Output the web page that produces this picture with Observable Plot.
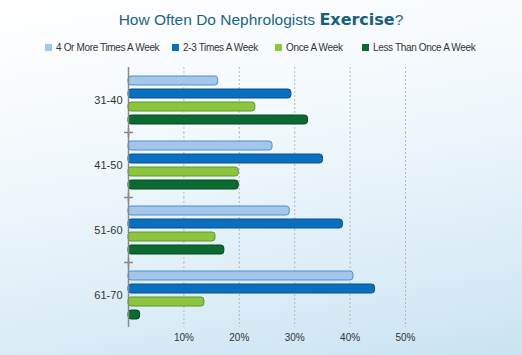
<!DOCTYPE html>
<html>
<head>
<meta charset="utf-8">
<script src="https://cdn.jsdelivr.net/npm/d3@7"></script>
<script src="https://cdn.jsdelivr.net/npm/@observablehq/plot@0.6"></script>
<style>
  html, body { margin: 0; padding: 0; }
  body {
    width: 522px; height: 355px; overflow: hidden;
    background: linear-gradient(170deg, #ffffff 0%, #f3f9fc 35%, #dcedf7 75%, #c9e3f2 100%);
    font-family: "Liberation Sans", Arial, sans-serif;
  }
  #title {
    height: 38px; line-height: 40px; text-align: center; white-space: nowrap;
    color: #1d6580; font-family: "Liberation Sans", Arial, sans-serif; font-size: 15.5px;
  }
  #title b { font-family: "DejaVu Sans", sans-serif; font-weight: 900; font-size: 16px; color: #17607c; }
  #legend {
    position: relative; height: 22px; font-size: 10px; color: #333; white-space: nowrap;
    letter-spacing: -0.35px;
  }
  #legend span.item { position: absolute; top: 4px; display: inline-flex; align-items: center; }
  #legend span.sw { width: 7px; height: 7px; display: inline-block; margin-right: 4px; }
  #chart svg { background: transparent; display: block; }
</style>
</head>
<body>
<div id="title">How Often Do Nephrologists <b>Exercise</b>?</div>
<div id="legend"></div>
<div id="chart"></div>
<script>
const ages = ["31-40", "41-50", "51-60", "61-70"];
const series = ["4 Or More Times A Week", "2-3 Times A Week", "Once A Week", "Less Than Once A Week"];
const v4OrMore   = [16.2, 26.0, 29.1, 40.6];
const v2to3      = [29.4, 35.1, 38.7, 44.5];
const vOnce      = [22.9, 19.9, 15.7, 13.7];
const vLessOnce  = [32.4, 19.9, 17.3, 2.1];
const xTicks = [10, 20, 30, 40, 50];

const fills   = ["#a3c7ea", "#0b6fc0", "#8cc63f", "#0b6a31"];
const strokes = ["#4d8fcf", "#09508f", "#5b962c", "#064a20"];
const legendLeft = [45, 172, 275, 362];

const seriesValues = [v4OrMore, v2to3, vOnce, vLessOnce];
const data = [];
ages.forEach((a, i) => series.forEach((s, j) => data.push({age: a, series: s, value: seriesValues[j][i]})));

const legend = document.getElementById("legend");
series.forEach((s, j) => {
  const it = document.createElement("span");
  it.className = "item";
  it.style.left = legendLeft[j] + "px";
  it.innerHTML = `<span class="sw" style="background:${fills[j]}"></span>${s}`;
  legend.appendChild(it);
});

const chart = Plot.plot({
  width: 522,
  height: 295,
  marginLeft: 128,
  marginRight: 117,
  marginTop: 5,
  marginBottom: 27,
  style: {background: "transparent", fontFamily: '"Liberation Sans", Arial, sans-serif', color: "#333"},
  x: {domain: [0, 50]},
  y: {domain: series, paddingInner: 0.33, paddingOuter: 0.55, axis: null},
  fy: {domain: ages, padding: 0},
  color: {domain: series, range: fills},
  marks: [
    Plot.ruleX(xTicks, {stroke: "#b5b9bc", strokeDasharray: "2,2", strokeWidth: 1}),
    Plot.barX(data, {
      fy: "age", y: "series", x: "value",
      fill: "series",
      stroke: (d) => strokes[series.indexOf(d.series)],
      strokeWidth: 1, rx: 3
    }),
    Plot.ruleX([0], {stroke: "#888", strokeWidth: 1.5}),
    Plot.dot(ages.slice(0, 3), {fy: (d) => d, x: () => 0, frameAnchor: "bottom", symbol: "plus", r: 3, stroke: "#888"}),
    Plot.axisX(xTicks, {tickSize: 0, tickPadding: 6, line: true, stroke: "#777", tickFormat: (d) => d + "%", fontSize: 10, label: null}),
    Plot.axisFy({anchor: "left", tickSize: 0, tickPadding: 6, fontSize: 11, label: null})
  ]
});
document.getElementById("chart").appendChild(chart);
</script>
</body>
</html>
